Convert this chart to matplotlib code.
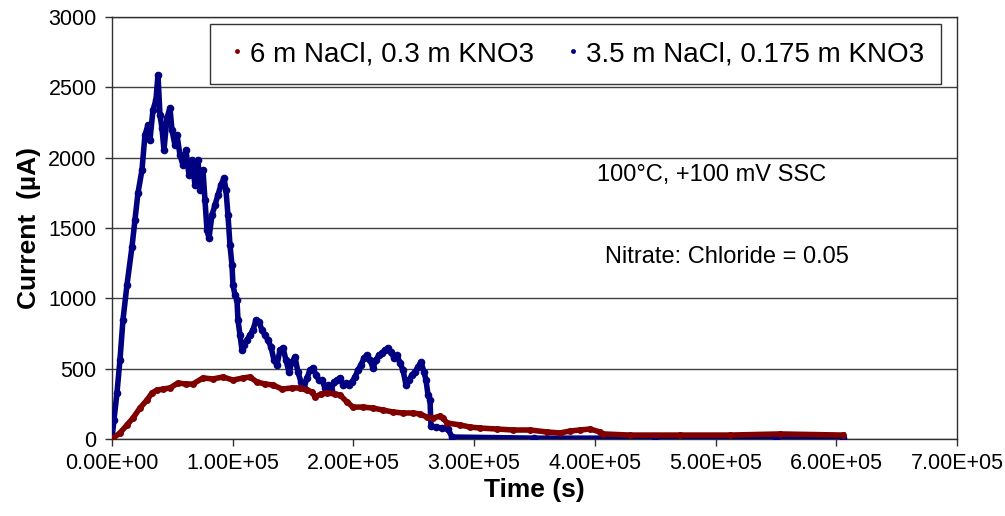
import matplotlib
matplotlib.use("Agg")
import matplotlib.pyplot as plt
from matplotlib.lines import Line2D
from matplotlib.ticker import FuncFormatter, MultipleLocator

plt.rcParams['font.family'] = ['Liberation Sans', 'DejaVu Sans']

# 6 m NaCl, 0.3 m KNO3 -- time (s), current (uA)
t_nacl6 = [0, 6628, 12428, 17399, 23198, 28997, 33140, 37283, 42254, 48053,
           54681, 61309, 67108, 75394, 83679, 91964, 100250, 108535, 114335, 120134,
           126763, 133390, 140846, 149132, 155760, 161560, 165702, 168188, 173159, 178130,
           184759, 188900, 194700, 199671, 207956, 216241, 224526, 232812, 241097, 249382,
           255181, 260981, 265952, 271751, 274237, 277550, 288328, 296613, 304898, 318983,
           332239, 346324, 360409, 371180, 379465, 387750, 396035, 404320, 406806, 429175,
           470600, 512000, 553400, 605600]
i_nacl6 = [0, 43, 100, 149, 220, 277, 327, 348, 355, 363,
           398, 391, 391, 434, 427, 441, 419, 434, 441, 405,
           391, 384, 355, 363, 363, 348, 334, 299, 320, 327,
           320, 313, 263, 227, 227, 220, 206, 192, 185, 185,
           178, 156, 149, 163, 149, 114, 100, 85, 78, 71,
           64, 64, 50, 43, 57, 64, 71, 50, 36, 28,
           28, 28, 36, 28]

# 3.5 m NaCl, 0.175 m KNO3 -- time (s), current (uA)
t_nacl35 = [0, 1657, 4142, 6628, 9114, 12428, 16570, 19055, 21541, 24855,
            27340, 29826, 31483, 33968, 36454, 38111, 39768, 41425, 43082, 45568,
            48053, 49710, 52196, 53853, 56338, 58824, 61309, 63795, 66280, 68766,
            71251, 72908, 75394, 77051, 78708, 80365, 82851, 85336, 87822, 90307,
            92792, 94450, 96107, 97764, 99421, 100250, 101907, 103564, 104393, 106050,
            107707, 109364, 111850, 114335, 116821, 119306, 121792, 124277, 126763, 129248,
            131734, 134219, 136705, 139190, 141676, 144161, 146647, 149132, 151618, 154103,
            156589, 159074, 161560, 164045, 166531, 169016, 171502, 173987, 176473, 178958,
            181444, 183929, 186415, 188900, 191386, 193871, 196357, 198842, 201328, 203813,
            206299, 208784, 211270, 213755, 216241, 218726, 221212, 223697, 226183, 228668,
            231154, 233639, 236125, 238610, 241096, 243581, 246067, 248552, 251038, 253523,
            256009, 258494, 260151, 261808, 263465, 264294, 268436, 273407, 278378, 281692,
            350000, 450000, 550000, 605600]
i_nacl35 = [0, 135, 327, 562, 846, 1095, 1365, 1557, 1749, 1912,
            2161, 2232, 2126, 2339, 2410, 2588, 2303, 2211, 2054, 2282,
            2353, 2197, 2090, 2161, 2019, 1948, 2054, 1877, 1983, 1806,
            1983, 1770, 1912, 1699, 1486, 1429, 1592, 1663, 1735, 1806,
            1855, 1770, 1592, 1379, 1237, 1095, 1024, 988, 846, 739,
            633, 668, 704, 739, 775, 846, 832, 775, 739, 704,
            654, 562, 526, 633, 647, 562, 476, 547, 583, 476,
            405, 363, 434, 491, 505, 455, 419, 419, 363, 384,
            348, 405, 419, 434, 384, 398, 384, 405, 441, 491,
            526, 576, 597, 562, 505, 562, 597, 611, 633, 647,
            618, 576, 597, 540, 491, 384, 419, 455, 476, 512,
            547, 476, 419, 313, 277, 92, 85, 78, 71, 14,
            6, 6, 6, 6]

labels = ["6 m NaCl, 0.3 m KNO3", "3.5 m NaCl, 0.175 m KNO3"]
red = "#800000"
navy = "#000080"

fig = plt.figure(figsize=(10.05, 5.16), dpi=100)
ax = fig.add_axes([0.1114, 0.1492, 0.8408, 0.8178])

ax.plot(t_nacl35, i_nacl35, '-o', color=navy, lw=4, ms=4.5, zorder=3)
ax.plot(t_nacl6, i_nacl6, '-o', color=red, lw=4, ms=4, zorder=4)

ax.set_xlim(0, 7e5)
ax.set_ylim(0, 3000)
ax.xaxis.set_major_locator(MultipleLocator(1e5))
ax.yaxis.set_major_locator(MultipleLocator(500))
ax.xaxis.set_major_formatter(FuncFormatter(lambda v, p: '%.2E' % v))
ax.grid(axis='y', color='#404040', lw=1)
ax.set_axisbelow(True)
for s in ax.spines.values():
    s.set_color('#303030')
    s.set_linewidth(1)
ax.tick_params(axis='both', direction='out', length=5, width=1,
               color='#303030', labelsize=15.5)
ax.tick_params(axis='x', pad=5)
ax.tick_params(axis='y', pad=6)

ax.set_xlabel("Time (s)", fontsize=19, fontweight='bold', labelpad=3)
ax.set_ylabel("Current  (\u00b5A)", fontsize=19, fontweight='bold', labelpad=5)

ax.text(497000, 1877, "100\u00b0C, +100 mV SSC", fontsize=17,
        ha='center', va='center')
ax.text(509500, 1294, "Nitrate: Chloride = 0.05", fontsize=17,
        ha='center', va='center')

handles = [Line2D([], [], ls='none', marker='o', ms=2.5, color=red),
           Line2D([], [], ls='none', marker='o', ms=2.5, color=navy)]
leg = ax.legend(handles, labels, ncol=2, loc='upper right',
                bbox_to_anchor=(0.9363, 0.9535), bbox_transform=fig.transFigure,
                fontsize=20, frameon=True, fancybox=False, shadow=False,
                handlelength=0.7, handletextpad=0.12, columnspacing=1.05,
                borderpad=0.62, borderaxespad=0)
leg.get_frame().set_edgecolor('black')
leg.get_frame().set_linewidth(1)

fig.savefig("out.png", dpi=100)
